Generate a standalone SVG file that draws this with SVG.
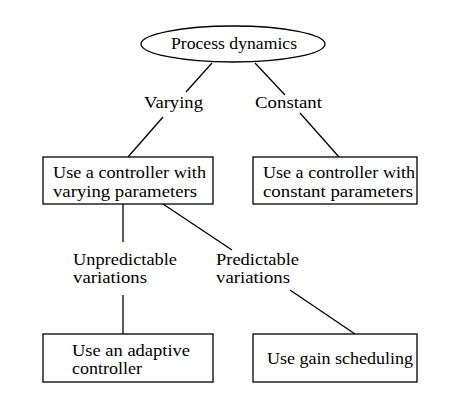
<svg xmlns="http://www.w3.org/2000/svg" width="466" height="401" viewBox="0 0 466 401">
<style>
text{font-family:"Liberation Serif","Times New Roman",serif;font-size:17px;fill:#000}
.n{fill:#fff;stroke:#000;stroke-width:1.3}
.c line{stroke:#000;stroke-width:1.3}
</style>
<rect width="466" height="401" fill="#fff"/>
<g class="c" id="connectors">
<line x1="212" y1="63" x2="186" y2="92"/>
<line x1="163" y1="117" x2="128" y2="157"/>
<line x1="255" y1="63" x2="285" y2="95"/>
<line x1="300" y1="113" x2="339" y2="157"/>
<line x1="123" y1="204" x2="123" y2="242"/>
<line x1="123" y1="295" x2="123" y2="334"/>
<line x1="163" y1="204" x2="232" y2="250"/>
<line x1="290" y1="290" x2="355" y2="334"/>
</g>
<g id="process-dynamics">
<ellipse class="n" cx="233" cy="44" rx="92" ry="18"/>
<text x="171" y="49" textLength="126" lengthAdjust="spacingAndGlyphs">Process dynamics</text>
</g>
<g id="label-varying"><text x="144" y="108" textLength="59" lengthAdjust="spacingAndGlyphs">Varying</text></g>
<g id="label-constant"><text x="255" y="108" textLength="67" lengthAdjust="spacingAndGlyphs">Constant</text></g>
<g id="varying-params">
<rect class="n" x="43" y="157" width="170" height="47"/>
<text x="53" y="178" textLength="153" lengthAdjust="spacingAndGlyphs">Use a controller with</text>
<text x="53" y="197" textLength="144" lengthAdjust="spacingAndGlyphs">varying parameters</text>
</g>
<g id="constant-params">
<rect class="n" x="253" y="157" width="164" height="47"/>
<text x="263" y="178" textLength="152" lengthAdjust="spacingAndGlyphs">Use a controller with</text>
<text x="263" y="197" textLength="150" lengthAdjust="spacingAndGlyphs">constant parameters</text>
</g>
<g id="label-unpredictable">
<text x="73" y="265" textLength="104" lengthAdjust="spacingAndGlyphs">Unpredictable</text>
<text x="73" y="283" textLength="74" lengthAdjust="spacingAndGlyphs">variations</text>
</g>
<g id="label-predictable">
<text x="216" y="265" textLength="83" lengthAdjust="spacingAndGlyphs">Predictable</text>
<text x="216" y="283" textLength="74" lengthAdjust="spacingAndGlyphs">variations</text>
</g>
<g id="adaptive">
<rect class="n" x="43" y="334" width="170" height="48"/>
<text x="72" y="356" textLength="118" lengthAdjust="spacingAndGlyphs">Use an adaptive</text>
<text x="72" y="374" textLength="70" lengthAdjust="spacingAndGlyphs">controller</text>
</g>
<g id="gain-scheduling">
<rect class="n" x="253" y="334" width="164" height="48"/>
<text x="267" y="364" textLength="146" lengthAdjust="spacingAndGlyphs">Use gain scheduling</text>
</g>
</svg>
